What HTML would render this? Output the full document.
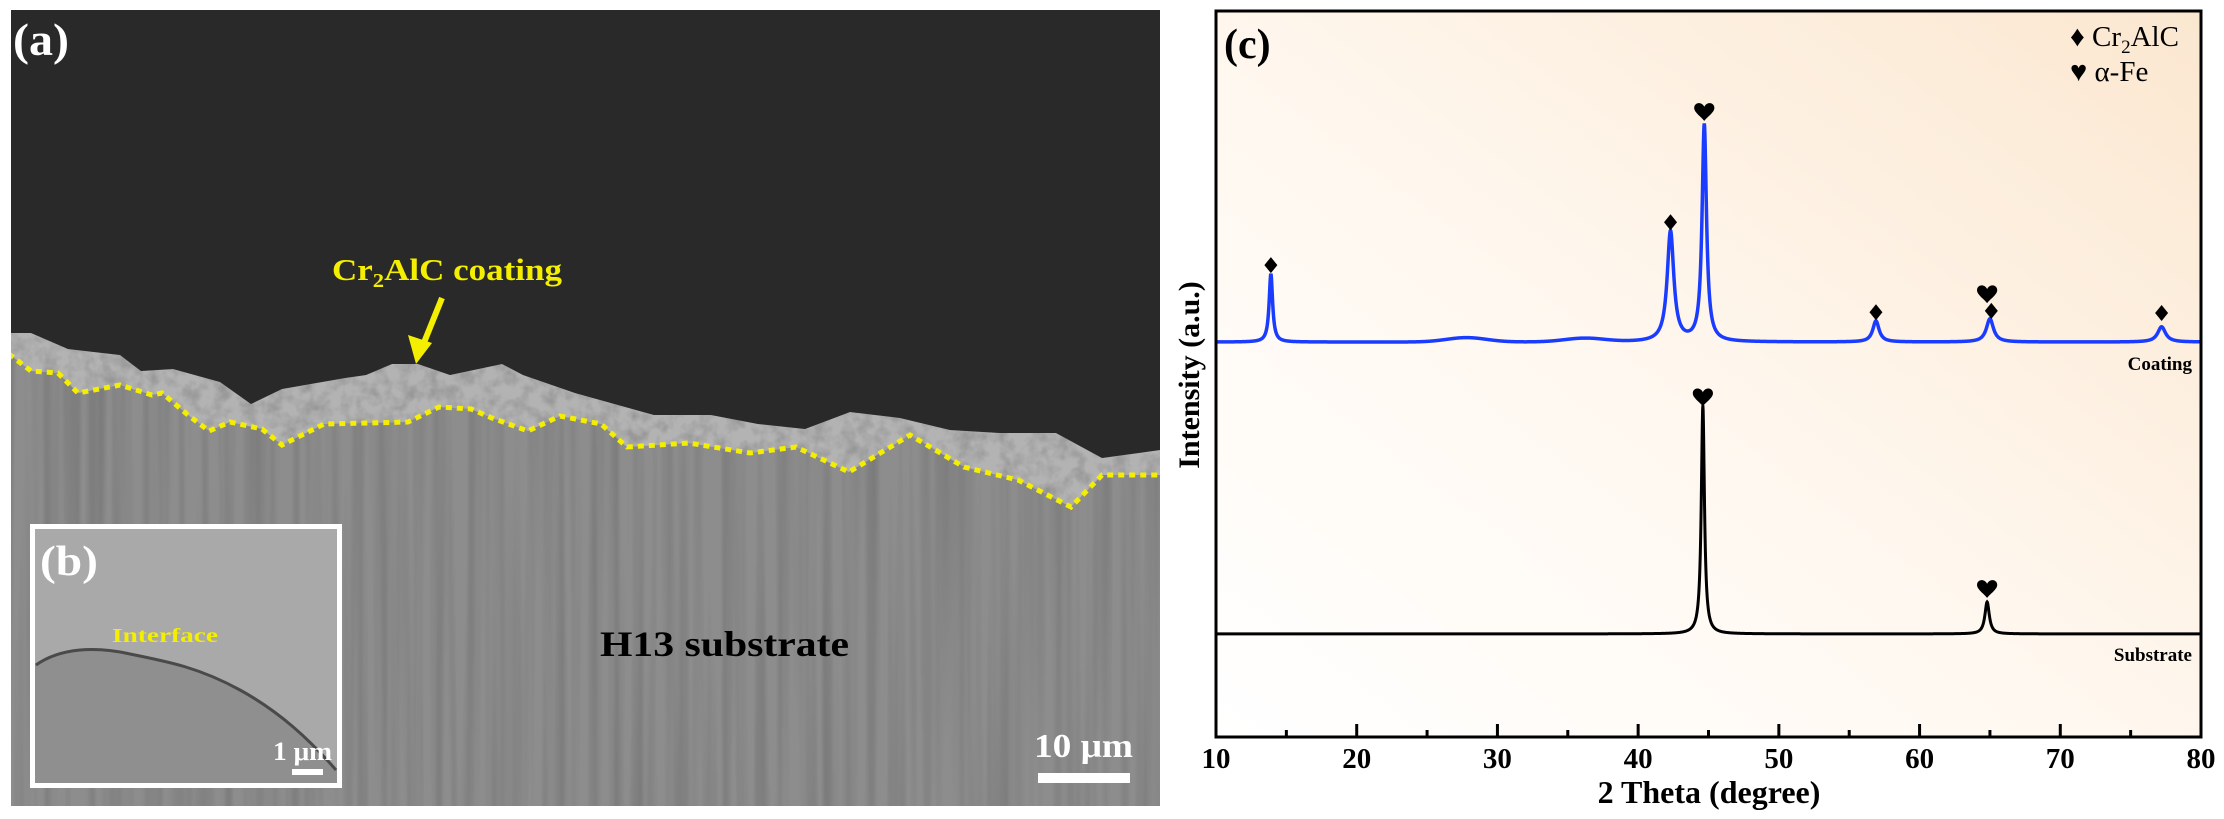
<!DOCTYPE html>
<html><head><meta charset="utf-8">
<style>
html,body{margin:0;padding:0;background:#fff;}
svg{display:block;}
text{font-family:"Liberation Serif",serif;}
</style></head>
<body>
<svg id="fig" width="2224" height="819" viewBox="0 0 2224 819" xmlns="http://www.w3.org/2000/svg">
<defs>
  <filter id="streaks" x="0" y="0" width="100%" height="100%">
    <feTurbulence type="fractalNoise" baseFrequency="0.09 0.0015" numOctaves="2" seed="4"/>
    <feColorMatrix type="matrix" values="0 0 0 0 0  0 0 0 0 0  0 0 0 0 0  0 0 0 -1.2 0.75"/>
  </filter>
  <filter id="grain" x="0" y="0" width="100%" height="100%">
    <feTurbulence type="fractalNoise" baseFrequency="0.07" numOctaves="3" seed="9"/>
    <feColorMatrix type="matrix" values="0 0 0 0 0.15  0 0 0 0 0.15  0 0 0 0 0.15  0 0 0 -1.8 1.1"/>
  </filter>
  <linearGradient id="bgGrad" x1="0" y1="1" x2="1" y2="0">
    <stop offset="0" stop-color="#ffffff"/>
    <stop offset="0.45" stop-color="#fff8f0"/>
    <stop offset="1" stop-color="#fbe7d0"/>
  </linearGradient>
  <clipPath id="semClip"><rect x="11" y="10" width="1149" height="796"/></clipPath>
  <clipPath id="coatClip"><polygon points="0,333 31,333 68,349 120,355 141,371 173,369 220,382 251,404 282,389 345,378 366,375 392,364 418,364 450,375 502,364 523,375 575,393 654,415 711,415 758,424 805,429 850,412 900,418 950,430 1000,433 1056,433 1102,458 1160,450 1160,475 1155,475 1102,475 1071,507 1018,480 964,467 910,435 849,472 796,447 750,453 689,443 627,447 601,424 560,416 528,431 492,418 471,409 439,407 408,422 324,424 282,445 262,429 230,422 209,431 188,415 162,393 152,395 120,385 78,393 58,373 31,371 0,347"/></clipPath>
</defs>

<!-- SEM panel -->
<g clip-path="url(#semClip)">
  <rect x="11" y="10" width="1149" height="796" fill="#8d8d8d"/>
  <rect x="11" y="10" width="1149" height="796" filter="url(#streaks)" opacity="0.22"/>
  <polygon fill="#b3b3b3"
    points="0,333 31,333 68,349 120,355 141,371 173,369 220,382 251,404 282,389 345,378 366,375 392,364 418,364 450,375 502,364 523,375 575,393 654,415 711,415 758,424 805,429 850,412 900,418 950,430 1000,433 1056,433 1102,458 1160,450 1160,475 1155,475 1102,475 1071,507 1018,480 964,467 910,435 849,472 796,447 750,453 689,443 627,447 601,424 560,416 528,431 492,418 471,409 439,407 408,422 324,424 282,445 262,429 230,422 209,431 188,415 162,393 152,395 120,385 78,393 58,373 31,371 0,347"/>
  <rect x="11" y="320" width="1149" height="200" filter="url(#grain)" opacity="0.5" clip-path="url(#coatClip)"/>
  <polygon fill="#292929"
    points="0,0 1160,0 1160,450 1102,458 1056,433 1000,433 950,430 900,418 850,412 805,429 758,424 711,415 654,415 575,393 523,375 502,364 450,375 418,364 392,364 366,375 345,378 282,389 251,404 220,382 173,369 141,371 120,355 68,349 31,333 0,333"/>
  <polyline fill="none" stroke="#f4ee00" stroke-width="5" stroke-dasharray="6 5"
    points="0,347 31,371 58,373 78,393 120,385 152,395 162,393 188,415 209,431 230,422 262,429 282,445 324,424 408,422 439,407 471,409 492,418 528,431 560,416 601,424 627,447 689,443 750,453 796,447 849,472 910,435 964,467 1018,480 1071,507 1102,475 1160,475"/>
  <text x="13" y="55" font-size="46" font-weight="bold" fill="#fff" textLength="56" lengthAdjust="spacingAndGlyphs">(a)</text>
  <text x="332" y="280" font-size="31" font-weight="bold" fill="#f4ee00" textLength="230" lengthAdjust="spacingAndGlyphs">Cr<tspan font-size="20" dy="7">2</tspan><tspan dy="-7">AlC coating</tspan></text>
  <line x1="442" y1="298" x2="423" y2="345" stroke="#f4ee00" stroke-width="6"/>
  <polygon fill="#f4ee00" points="416,364 408,335 432,343"/>
  <text x="600" y="656" font-size="36" font-weight="bold" fill="#000" textLength="249" lengthAdjust="spacingAndGlyphs">H13 substrate</text>
  <text x="1034" y="757" font-size="34" font-weight="bold" fill="#fff" textLength="99" lengthAdjust="spacingAndGlyphs">10 μm</text>
  <rect x="1038" y="773" width="92" height="10" fill="#fff"/>
  <g>
    <rect x="30" y="524" width="312" height="264" fill="#fff"/>
    <rect x="35" y="529" width="302" height="254" fill="#a9a9a9"/>
    <path d="M35,664 C60,650 90,645 120,652 C160,660 200,668 240,690 C280,712 310,740 337,770 L337,783 L35,783 Z" fill="#8f8f8f"/>
    <path d="M36,665 C60,648 95,646 130,654 C170,662 200,668 240,690 C280,712 310,740 336,770" fill="none" stroke="#4a4a4a" stroke-width="3"/>
    <text x="40" y="575" font-size="42" font-weight="bold" fill="#fff" textLength="58" lengthAdjust="spacingAndGlyphs">(b)</text>
    <text x="112" y="642" font-size="20" font-weight="bold" fill="#f4ee00" textLength="106" lengthAdjust="spacingAndGlyphs">Interface</text>
    <text x="273" y="760" font-size="26" font-weight="bold" fill="#fff" textLength="59" lengthAdjust="spacingAndGlyphs">1 μm</text>
    <rect x="292" y="769" width="31" height="6" fill="#fff"/>
  </g>
</g>

<!-- XRD chart -->
<g id="chart">
  <rect x="1216" y="11" width="985" height="726" fill="url(#bgGrad)"/>
  <g id="series"></g>
  <g id="markers"></g>
  <g id="ticks"></g>
  <rect x="1216" y="11" width="985" height="726" fill="none" stroke="#000" stroke-width="3"/>
  <text x="1224" y="58" font-size="42" font-weight="bold" fill="#000">(c)</text>
  <g>
    <text x="2070" y="46" font-size="29" fill="#000">♦ Cr<tspan font-size="19" dy="7">2</tspan><tspan dy="-7">AlC</tspan></text>
    <text x="2070" y="81" font-size="29" fill="#000">♥ α-Fe</text>
  </g>
  <text x="2192" y="370" font-size="19" font-weight="bold" text-anchor="end" fill="#000">Coating</text>
  <text x="2192" y="661" font-size="19" font-weight="bold" text-anchor="end" fill="#000">Substrate</text>
  <text transform="translate(1199,375) rotate(-90)" font-size="30" font-weight="bold" text-anchor="middle" fill="#000">Intensity (a.u.)</text>
  <text x="1709" y="803" font-size="32" font-weight="bold" text-anchor="middle" fill="#000">2 Theta (degree)</text>
</g>
</svg>
<script>
const xTicks = [10, 20, 30, 40, 50, 60, 70, 80];
const xMinorTicks = [15, 25, 35, 45, 55, 65, 75];
const coatBase = 54.4;
const coatPeakPos = [13.9, 42.3, 44.7, 56.9, 65.0, 77.2];
const coatPeakH = [9.4, 15.2, 29.9, 2.9, 3.2, 2.1];
const coatPeakW = [0.22, 0.42, 0.28, 0.4, 0.45, 0.5];
const coatHumpPos = [27.8, 36.2];
const coatHumpH = [0.6, 0.5];
const subBase = 14.2;
const subPeakPos = [44.6, 64.8];
const subPeakH = [31.5, 4.4];
const subPeakW = [0.2, 0.28];
const markerPos = [13.9, 42.3, 44.7, 56.9, 64.8, 65.1, 77.2, 44.6, 64.8];
const markerType = ['d', 'd', 'h', 'd', 'h', 'd', 'd', 'h', 'h'];
const markerVal = [65.0, 70.9, 86.1, 58.5, 61.0, 58.7, 58.4, 46.8, 20.4];

const X0 = 1216, X1 = 2201, Y0 = 737, Y1 = 11;
function xs(t) { return X0 + (t - 10) / 70 * (X1 - X0); }
function ys(v) { return Y0 - v / 100 * (Y0 - Y1); }
const NS = 'http://www.w3.org/2000/svg';
function lor(t, p, h, w) { const d = (t - p) / w; return h / (1 + d * d * 2.2); }
function seriesPath(base, pos, hs, ws, hp, hh) {
  let d = '';
  for (let t = 10; t <= 80.0001; t += 0.02) {
    let v = base;
    for (let i = 0; i < pos.length; i++) v += lor(t, pos[i], hs[i], ws[i]);
    if (hp) for (let i = 0; i < hp.length; i++) v += hh[i] * Math.exp(-((t - hp[i]) ** 2) / 4);
    d += (d ? 'L' : 'M') + xs(t).toFixed(2) + ',' + ys(v).toFixed(2);
  }
  return d;
}
const sg = document.getElementById('series');
const cp = document.createElementNS(NS, 'path');
cp.setAttribute('d', seriesPath(coatBase, coatPeakPos, coatPeakH, coatPeakW, coatHumpPos, coatHumpH));
cp.setAttribute('fill', 'none'); cp.setAttribute('stroke', '#1a3cff'); cp.setAttribute('stroke-width', '3.5');


sg.appendChild(cp);
const sp = document.createElementNS(NS, 'path');
sp.setAttribute('d', seriesPath(subBase, subPeakPos, subPeakH, subPeakW));
sp.setAttribute('fill', 'none'); sp.setAttribute('stroke', '#000'); sp.setAttribute('stroke-width', '3');


sg.appendChild(sp);

const mg = document.getElementById('markers');
for (let i = 0; i < markerPos.length; i++) {
  const cx = xs(markerPos[i]), cy = ys(markerVal[i]);
  const m = document.createElementNS(NS, 'path');
  if (markerType[i] === 'd') {
    m.setAttribute('d', `M${cx},${cy - 8}L${cx + 6.5},${cy}L${cx},${cy + 8}L${cx - 6.5},${cy}Z`);
    
  } else {
    m.setAttribute('d', `M${cx},${cy + 9}C${cx - 4},${cy + 4} ${cx - 11},${cy} ${cx - 10},${cy - 5}C${cx - 9},${cy - 10} ${cx - 2},${cy - 10} ${cx},${cy - 5}C${cx + 2},${cy - 10} ${cx + 9},${cy - 10} ${cx + 10},${cy - 5}C${cx + 11},${cy} ${cx + 4},${cy + 4} ${cx},${cy + 9}Z`);
    
  }
  
  m.setAttribute('fill', '#000');
  mg.appendChild(m);
}

const tg = document.getElementById('ticks');
xTicks.forEach(t => {
  const l = document.createElementNS(NS, 'line');
  l.setAttribute('x1', xs(t)); l.setAttribute('x2', xs(t));
  l.setAttribute('y1', Y0); l.setAttribute('y2', Y0 - 13);
  l.setAttribute('stroke', '#000'); l.setAttribute('stroke-width', '3');
  
  
  tg.appendChild(l);
  const tx = document.createElementNS(NS, 'text');
  tx.setAttribute('x', xs(t)); tx.setAttribute('y', 768);
  tx.setAttribute('text-anchor', 'middle'); tx.setAttribute('font-size', '29');
  tx.setAttribute('font-weight', 'bold');
  tx.textContent = t;
  
  
  tg.appendChild(tx);
});
xMinorTicks.forEach(t => {
  const l = document.createElementNS(NS, 'line');
  l.setAttribute('x1', xs(t)); l.setAttribute('x2', xs(t));
  l.setAttribute('y1', Y0); l.setAttribute('y2', Y0 - 7);
  l.setAttribute('stroke', '#000'); l.setAttribute('stroke-width', '3');
  
  
  tg.appendChild(l);
});
</script>
</body></html>
